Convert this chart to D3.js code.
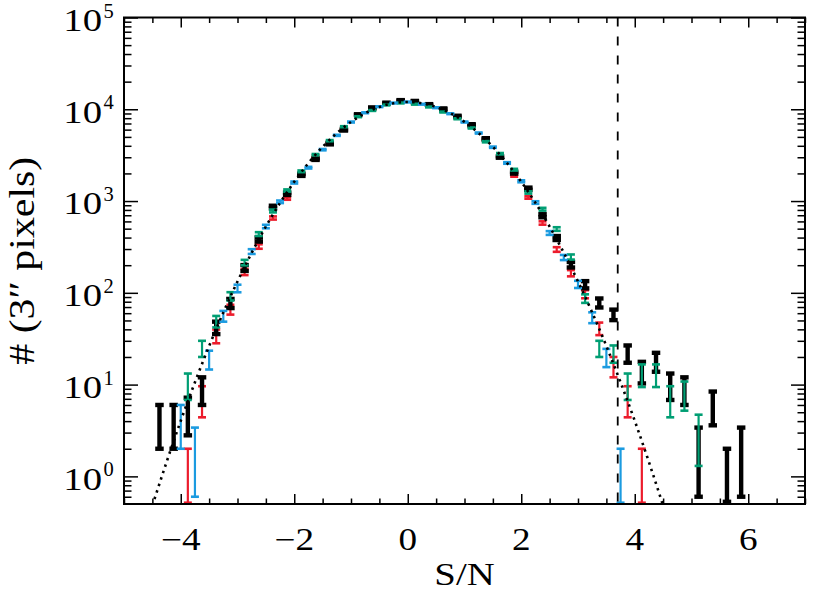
<!DOCTYPE html>
<html><head><meta charset="utf-8">
<script src="https://cdn.jsdelivr.net/npm/d3@7"></script>
<style>
body{margin:0;background:#fff}
svg{display:block}
text{font-family:"Liberation Serif","Times New Roman",serif;fill:#000}
</style>
</head><body>
<svg id="c" width="830" height="593"></svg>
<script>
// ---------- data ----------
const binsA = [-4.375,-4.125,-3.875,-3.625,-3.375,-3.125,-2.875,-2.625,-2.375,-2.125,-1.875,-1.625,-1.375,-1.125,-0.875,-0.625,-0.375,-0.125,0.125,0.375,0.625,0.875,1.125,1.375,1.625,1.875,2.125,2.375,2.625,2.875,3.125,3.375,3.625,3.875,4.125,4.375,4.625,4.875,5.125,5.375,5.625,5.875];
const blackN   = [4,4,5,9,42,77,187,381,860,1200,1923,2860,4210,5940,8730,10380,11700,12470,12220,11270,10120,8410,6790,4770,3020,2037,1364,692,396,203,123,78,58,22,14,18,10,9,2,6,1,2];
const blackErr = [2,2,2.2,3,6.5,8.8,13.7,19.5,29.3,34.6,43.9,53.5,64.9,77.1,93.4,101.9,108.2,111.7,110.5,106.2,100.6,91.7,82.4,69.1,55,45.1,36.9,26.3,19.9,14.2,11.1,8.8,7.6,4.7,3.7,4.2,3.2,3,1.4,2.4,1,1.4];
const greenN   = [null,null,10,25,49,92,214,437,780,1303,2110,3200,4550,6460,8300,9700,11140,11700,11350,10590,9330,7880,6250,4430,3280,2197,1240,815,496,246,87,25,22,10,13,13,7,8,3,null,null,null];
const greenErr = [null,null,3.2,5,7,9.6,14.6,20.9,27.9,36.1,45.9,56.6,67.5,80.4,91.1,98.5,105.5,108.2,106.5,102.9,96.6,88.8,79.1,66.6,57.3,46.9,35.2,28.5,22.3,15.7,9.3,5,4.7,3.2,3.6,3.6,2.6,2.8,1.7,null,null,null];
const redN     = [null,null,1,7,34,66,169,320,654,1066,2000,3000,4350,6200,8500,10000,11400,12000,11800,10900,9700,8100,6500,4600,3150,1885,1093,577,297,164,97,41,16,7,1,null,null,null,null,null,null,null];
const redErr   = [null,null,1,2.6,5.8,8.1,13,17.9,25.6,32.6,44.7,54.8,66,78.7,92.2,100,106.8,109.5,108.6,104.4,98.5,90,80.6,67.8,56.1,43.4,33.1,24,17.2,12.8,9.8,6.4,4,2.6,1,null,null,null,null,null,null,null];
const binsB = [-4,-3.75,-3.5,-3.25,-3,-2.75,-2.5,-2.25,-2,-1.75,-1.5,-1.25,-1,-0.75,-0.5,-0.25,0,0.25,0.5,0.75,1,1.25,1.5,1.75,2,2.25,2.5,2.75,3,3.25,3.5,3.75];
const blueN    = [4,2,19,56,112,282,528,982,1592,2310,3630,5200,7260,9160,10670,11700,12000,11350,10400,8950,7260,5510,3860,2600,1642,964,449,243,124,54,20,1];
const blueErr  = [2,1.4,4.4,7.5,10.6,16.8,23,31.3,39.9,48.1,60.2,72.1,85.2,95.7,103.3,108.2,109.5,106.5,102,94.6,85.2,74.2,62.1,51,40.5,31,21.2,15.6,11.1,7.3,4.5,1];
const modelX = [-4.5,-4.25,-4,-3.75,-3.5,-3.25,-3,-2.75,-2.5,-2.25,-2,-1.75,-1.5,-1.25,-1,-0.75,-0.5,-0.25,0,0.25,0.5,0.75,1,1.25,1.5,1.75,2,2.25,2.5,2.75,3,3.25,3.5,3.75,4,4.25,4.5];
const modelN = [0.48,1.43,4.03,10.6,26.3,61,133,273,527,955,1624,2596,3896,5494,7278,9058,10590,11631,12000,11631,10590,9058,7278,5494,3896,2596,1624,955,527,273,133,61,26.3,10.6,4.03,1.43,0.48];
const cutSN = 3.7;
const xTicks = [-4,-2,0,2,4,6];
const xTickLabels = ["\u22124","\u22122","0","2","4","6"];
const yTicks = [1,10,100,1000,10000,100000];
const yTickExp = ["0","1","2","3","4","5"];
const xTitle = "S/N";
const yTitle = "# (3\u2033 pixels)";

// ---------- chart ----------
const W = 830, H = 593;
const L = 124, R = 805, T = 17.5, B = 504;
const x = d3.scaleLinear().domain([-5, 7]).range([L, R]);
const y = d3.scaleLog().domain([0.5, 1e5]).range([B, T]);
const svg = d3.select('#c');
svg.append('rect').attr('width', W).attr('height', H).attr('fill', '#fff');
svg.append('defs').append('clipPath').attr('id', 'clip')
  .append('rect').attr('x', L).attr('y', T).attr('width', R - L).attr('height', B - T);

function drawSeries(xs, vals, errs, color, lw, capW, capT) {
  const g = svg.append('g');
  xs.forEach((xv, i) => {
    const v = vals[i];
    if (v == null) return;
    const e = errs[i];
    const hi = v + e, lo = v - e;
    const yHi = y(hi);
    const yLo = lo > y.domain()[0] ? y(lo) : B - capT / 2;
    const cx = x(xv);
    g.append('line').attr('x1', cx).attr('x2', cx).attr('y1', yHi).attr('y2', yLo)
      .attr('stroke', color).attr('stroke-width', lw);
    [yHi, yLo].forEach(yy => g.append('line')
      .attr('x1', cx - capW / 2).attr('x2', cx + capW / 2).attr('y1', yy).attr('y2', yy)
      .attr('stroke', color).attr('stroke-width', capT));
  });
}
drawSeries(binsA, redN, redErr, '#ec1c2c', 2.2, 8, 2.6);
drawSeries(binsA, blackN, blackErr, '#000000', 4.4, 8.5, 4.4);
drawSeries(binsA, greenN, greenErr, '#009e73', 2.2, 8, 2.6);
drawSeries(binsB, blueN, blueErr, '#1b9be0', 2.2, 8, 2.6);

// model curve (dotted)
const line = d3.line().x((d, i) => x(modelX[i])).y(d => y(d)).curve(d3.curveMonotoneX);
svg.append('path').attr('d', line(modelN)).attr('clip-path', 'url(#clip)')
  .attr('fill', 'none').attr('stroke', '#000').attr('stroke-width', 2.6)
  .attr('stroke-dasharray', '2.4,4.4');

// dashed cut
svg.append('line').attr('x1', x(cutSN)).attr('x2', x(cutSN)).attr('y1', T).attr('y2', B)
  .attr('stroke', '#000').attr('stroke-width', 1.8).attr('stroke-dasharray', '9,10');

// axes ticks
function tickGroup(gen, vals, size, tr) {
  const g = svg.append('g').attr('transform', tr)
    .call(gen.tickValues(vals).tickSize(size).tickFormat(''));
  g.select('.domain').remove();
  g.selectAll('line').attr('stroke', '#000').attr('stroke-width', 1.5);
}
const xMinor = d3.range(-5, 7.001, 0.5).filter(v => xTicks.indexOf(v) < 0);
const yMinor = y.ticks().filter(v => yTicks.indexOf(v) < 0 && v > 0.5 && v < 1e5);
tickGroup(d3.axisBottom(x), xTicks, -10, `translate(0,${B})`);
tickGroup(d3.axisBottom(x), xMinor, -5.5, `translate(0,${B})`);
tickGroup(d3.axisTop(x), xTicks, -10, `translate(0,${T})`);
tickGroup(d3.axisTop(x), xMinor, -5.5, `translate(0,${T})`);
tickGroup(d3.axisLeft(y), yTicks, -14, `translate(${L},0)`);
tickGroup(d3.axisLeft(y), yMinor, -7.5, `translate(${L},0)`);
tickGroup(d3.axisRight(y), yTicks, -14, `translate(${R},0)`);
tickGroup(d3.axisRight(y), yMinor, -7.5, `translate(${R},0)`);

svg.append('rect').attr('x', L).attr('y', T).attr('width', R - L).attr('height', B - T)
  .attr('fill', 'none').attr('stroke', '#000').attr('stroke-width', 2);

function stretchTo(sel, f) {
  sel.each(function () {
    const n = this.getComputedTextLength();
    d3.select(this).attr('textLength', typeof f === 'function' ? f(n) : n * f)
      .attr('lengthAdjust', 'spacingAndGlyphs');
  });
}
// x labels
const xl = svg.append('g').selectAll('text').data(xTicks).join('text')
  .attr('x', d => x(d)).attr('y', 550).attr('text-anchor', 'middle')
  .attr('font-size', 31).text((d, i) => xTickLabels[i]);
stretchTo(xl, 1.2);
// y labels
const yb = svg.append('g').selectAll('text').data(yTicks).join('text')
  .attr('x', 102).attr('y', d => y(d) + 13.4).attr('text-anchor', 'end')
  .attr('font-size', 31).text('10');
stretchTo(yb, 1.25);
svg.append('g').selectAll('text').data(yTicks).join('text')
  .attr('x', 103.5).attr('y', d => y(d)).attr('text-anchor', 'start')
  .attr('font-size', 20.5).text((d, i) => yTickExp[i]);

// titles
const xt = svg.append('text').attr('x', (L + R) / 2).attr('y', 585).attr('text-anchor', 'middle')
  .attr('font-size', 31).text(xTitle);
stretchTo(xt, 1.25);
const yt = svg.append('text').attr('transform', `translate(34,${(T + B) / 2}) rotate(-90)`)
  .attr('text-anchor', 'middle').attr('font-size', 35).text(yTitle);
stretchTo(yt, () => 208);
</script>
</body></html>
